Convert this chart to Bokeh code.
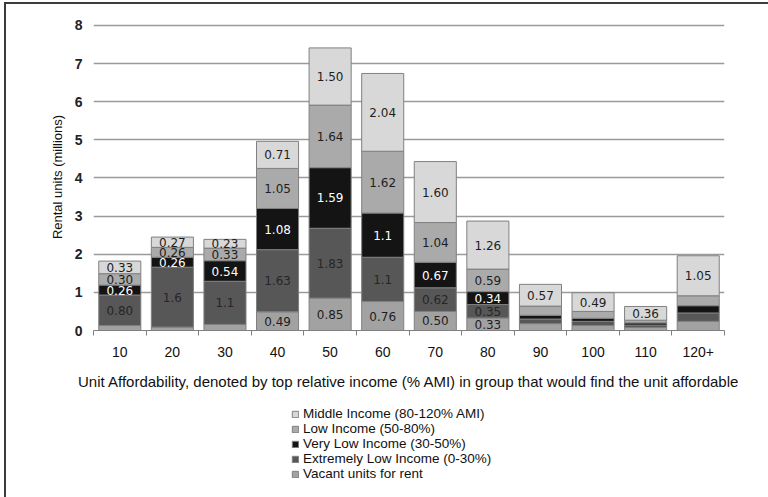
import numpy as np
from bokeh.plotting import figure
from bokeh.layouts import column
from bokeh.models import FixedTicker, Legend, LegendItem, ColumnDataSource, Range1d
from bokeh.core.properties import value
from bokeh.embed import file_html
from bokeh.resources import INLINE

# ---- data (millions of rental units) ----
cats = ["10", "20", "30", "40", "50", "60", "70", "80", "90", "100", "110", "120+"]
vacant = [0.13, 0.09, 0.16, 0.49, 0.85, 0.76, 0.50, 0.33, 0.18, 0.13, 0.08, 0.24]
eli    = [0.80, 1.57, 1.13, 1.63, 1.83, 1.16, 0.62, 0.35, 0.12, 0.11, 0.06, 0.22]
vli    = [0.26, 0.26, 0.54, 1.08, 1.59, 1.16, 0.67, 0.34, 0.10, 0.08, 0.06, 0.19]
low    = [0.30, 0.26, 0.33, 1.05, 1.64, 1.62, 1.04, 0.59, 0.24, 0.18, 0.07, 0.26]
mid    = [0.33, 0.27, 0.23, 0.71, 1.50, 2.04, 1.60, 1.26, 0.57, 0.49, 0.36, 1.05]

vacant_lbl = ["", "", "", "0.49", "0.85", "0.76", "0.50", "0.33", "", "", "", ""]
eli_lbl    = ["0.80", "1.6", "1.1", "1.63", "1.83", "1.1", "0.62", "0.35", "", "", "", ""]
vli_lbl    = ["0.26", "0.26", "0.54", "1.08", "1.59", "1.1", "0.67", "0.34", "", "", "", ""]
low_lbl    = ["0.30", "0.26", "0.33", "1.05", "1.64", "1.62", "1.04", "0.59", "", "", "", ""]
mid_lbl    = ["0.33", "0.27", "0.23", "0.71", "1.50", "2.04", "1.60", "1.26", "0.57", "0.49", "0.36", "1.05"]

series_names = ["Vacant units for rent", "Extremely Low Income (0-30%)",
                "Very Low Income (30-50%)", "Low Income (50-80%)",
                "Middle Income (80-120% AMI)"]
y_ticks = [0, 1, 2, 3, 4, 5, 6, 7, 8]

# ---- styling ----
fills = ["#a2a2a2", "#575757", "#141414", "#aaaaaa", "#d8d8d8"]
label_colors = ["#1e1e1e", "#262626", "#ffffff", "#1e1e1e", "#1e1e1e"]
frame_css = "2px solid #3c3c3c"
MB_LEFT, MB_RIGHT = 87, 44

x = np.arange(len(cats)) + 0.5
keys = ["vacant", "eli", "vli", "low", "mid"]
data = dict(x=x, vacant=vacant, eli=eli, vli=vli, low=low, mid=mid)
source = ColumnDataSource(data)

p = figure(width=762, height=388, output_backend="svg", toolbar_location=None,
           x_range=Range1d(0, len(cats)), y_range=Range1d(0, 8.05),
           min_border_left=MB_LEFT, min_border_right=MB_RIGHT, min_border_top=19,
           min_border_bottom=62)
p.outline_line_color = None
p.background_fill_color = "white"
p.border_fill_color = "white"

renderers = p.vbar_stack(keys, x="x", width=0.8, source=source,
                         fill_color=fills, line_color="#808080", line_width=1)

# segment labels
series = [vacant, eli, vli, low, mid]
labels = [vacant_lbl, eli_lbl, vli_lbl, low_lbl, mid_lbl]
bottoms = np.zeros(len(cats))
lx, ly, lt, lc = [], [], [], []
for vals, lbls, col in zip(series, labels, label_colors):
    vals = np.array(vals)
    for i, t in enumerate(lbls):
        if t:
            lx.append(x[i])
            ly.append(bottoms[i] + vals[i] / 2)
            lt.append(t)
            lc.append(col)
    bottoms = bottoms + vals
p.text(x=lx, y=ly, text=lt, text_color=lc, text_align="center",
       text_baseline="middle", text_font=value("DejaVu Sans"),
       text_font_size="12px")

# axes
xa = p.xaxis[0]
xa.ticker = FixedTicker(ticks=list(x), minor_ticks=list(range(len(cats) + 1)))
xa.major_label_overrides = {float(xi): c for xi, c in zip(x, cats)}
xa.major_tick_out = 0
xa.major_tick_in = 0
xa.major_tick_line_color = None
xa.minor_tick_out = 5
xa.minor_tick_in = 0
xa.minor_tick_line_color = "#808080"
xa.axis_line_color = "#808080"
xa.major_label_standoff = 11
xa.major_label_text_font = "Liberation Sans"
xa.major_label_text_font_size = "14px"
xa.major_label_text_color = "#111111"
xa.axis_label = "Unit Affordability, denoted by top relative income (% AMI) in group that would find the unit affordable"
xa.axis_label_text_font = "Liberation Sans"
xa.axis_label_text_font_size = "15px"
xa.axis_label_text_font_style = "normal"
xa.axis_label_text_color = "#111111"
xa.axis_label_standoff = 13

ya = p.yaxis[0]
ya.ticker = FixedTicker(ticks=y_ticks)
ya.axis_line_color = None
ya.major_tick_line_color = None
ya.minor_tick_line_color = None
ya.major_tick_out = 0
ya.major_label_standoff = 11
ya.major_label_text_font = "Liberation Sans"
ya.major_label_text_font_size = "14px"
ya.major_label_text_font_style = "bold"
ya.major_label_text_color = "#222222"
ya.axis_label = "Rental units (millions)"
ya.axis_label_text_font = "Liberation Sans"
ya.axis_label_text_font_size = "13px"
ya.axis_label_text_font_style = "normal"
ya.axis_label_text_color = "#111111"
ya.axis_label_standoff = 7

p.xgrid.visible = False
p.ygrid.grid_line_color = "#9a9a9a"
p.ygrid.grid_line_width = 1.5

# ---- legend panel (second figure; its bars lie outside its visible ranges) ----
lg = figure(width=762, height=105, output_backend="svg", toolbar_location=None,
            x_range=Range1d(100, 101), y_range=Range1d(100, 101),
            x_axis_type=None, y_axis_type=None,
            min_border_left=MB_LEFT, min_border_right=MB_RIGHT, min_border_top=0,
            min_border_bottom=0)
lg.outline_line_color = None
lg.grid.visible = False
lg.border_fill_color = "white"
lg.background_fill_color = "white"
lrend = lg.vbar_stack(keys, x="x", width=0.8, source=source,
                      fill_color=fills, line_color="#808080", line_width=1)

items = [LegendItem(label=n, renderers=[r]) for n, r in zip(series_names, lrend)]
legend = Legend(items=list(reversed(items)), location=(198, 16),
                orientation="vertical", padding=2, spacing=0, margin=0,
                label_height=14, glyph_height=8, glyph_width=8,
                label_standoff=4, label_text_font="Liberation Sans",
                label_text_font_size="13.5px", label_text_color="#111111",
                border_line_color=None, background_fill_alpha=0)
lg.add_layout(legend, "center")

layout = column(p, lg, spacing=0)
layout.styles = {"margin-left": "4px", "margin-top": "2px",
                 "border-left": frame_css, "border-top": frame_css}
open("out.html", "w").write(file_html(layout, INLINE))
